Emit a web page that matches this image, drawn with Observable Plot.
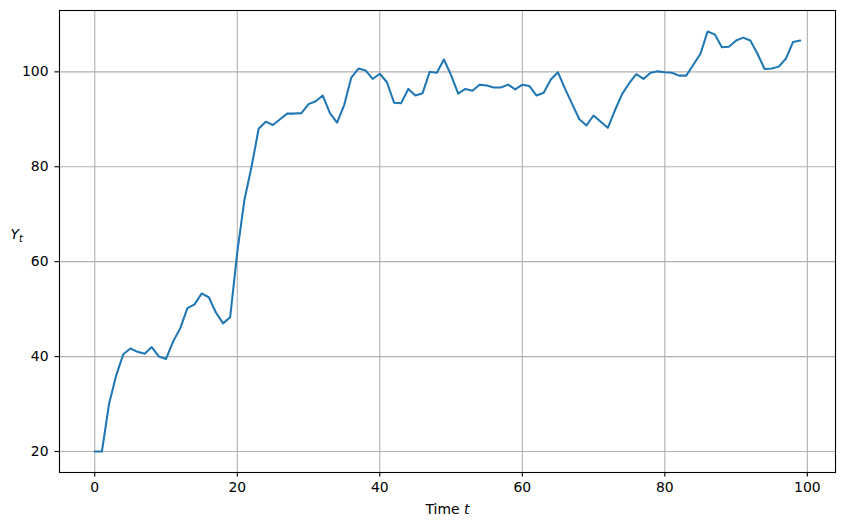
<!DOCTYPE html>
<html>
<head>
<meta charset="utf-8">
<script src="https://cdn.jsdelivr.net/npm/d3@7"></script>
<script src="https://cdn.jsdelivr.net/npm/@observablehq/plot@0.6"></script>
<style>
  html, body { margin: 0; padding: 0; background: #fff; }
  #chart svg { display: block; }
</style>
</head>
<body>
<div id="chart"></div>
<script>
const t = d3.range(0, 100);
const Y = [
  20.0, 20.0, 30.0, 36.0, 40.5, 41.7, 41.0, 40.6, 42.0, 40.0,
  39.5, 43.2, 46.0, 50.2, 51.0, 53.3, 52.5, 49.3, 47.0, 48.3,
  62.0, 73.0, 80.0, 88.0, 89.5, 88.8, 90.0, 91.2, 91.2, 91.3,
  93.2, 93.8, 95.0, 91.3, 89.3, 93.0, 98.8, 100.7, 100.3, 98.5,
  99.6, 97.8, 93.5, 93.4, 96.4, 95.0, 95.5, 100.0, 99.8, 102.6,
  99.3, 95.4, 96.4, 96.0, 97.3, 97.1, 96.7, 96.7, 97.3, 96.3,
  97.3, 97.0, 95.0, 95.6, 98.4, 99.9, 96.4, 93.2, 90.0, 88.7,
  90.8, 89.5, 88.2, 91.9, 95.3, 97.6, 99.5, 98.5, 99.8, 100.1,
  99.9, 99.8, 99.2, 99.2, 101.5, 103.8, 108.5, 107.9, 105.2, 105.3,
  106.6, 107.2, 106.6, 103.8, 100.6, 100.7, 101.1, 102.8, 106.3, 106.6
];
const xTicks = [0, 20, 40, 60, 80, 100];
const yTicks = [20, 40, 60, 80, 100];
const xLabel = "Time t";
const yLabel = "Y_t";

const data = t.map((ti, i) => ({t: ti, y: Y[i]}));

const xMin = d3.min(t), xMax = d3.max(t);
const yMin = d3.min(Y), yMax = d3.max(Y);
const xPad = (xMax - xMin) * 0.05, yPad = (yMax - yMin) * 0.05;

const chart = Plot.plot({
  width: 844,
  height: 526,
  marginLeft: 59,
  marginRight: 9,
  marginTop: 10,
  marginBottom: 54,
  style: {fontFamily: "DejaVu Sans", fontSize: "13.9px", color: "#000", background: "#fff"},
  x: {domain: [xMin - xPad, xMax + xPad], ticks: xTicks},
  y: {domain: [yMin - yPad, yMax + yPad], ticks: yTicks},
  marks: [
    Plot.gridX(xTicks, {stroke: "#b0b0b0", strokeOpacity: 1, strokeWidth: 1.1}),
    Plot.gridY(yTicks, {stroke: "#b0b0b0", strokeOpacity: 1, strokeWidth: 1.1}),
    Plot.line(data, {x: "t", y: "y", stroke: "#1f77b4", strokeWidth: 2.05}),
    Plot.frame({stroke: "#000", strokeWidth: 1.1}),
    Plot.axisX(xTicks, {label: null, tickSize: 4.5, tickPadding: 5.5, strokeWidth: 1.1, fontSize: 13.9}),
    Plot.axisY(yTicks, {label: null, tickSize: 4.5, tickPadding: 6.5, strokeWidth: 1.1, fontSize: 13.9}),
    Plot.text([xLabel], {frameAnchor: "bottom", dy: 41, text: d => d, fontSize: 13.9, className: "xlab"}),
    Plot.text([yLabel], {frameAnchor: "left", dx: -49, dy: -7, textAnchor: "start", text: d => d, fontSize: 13.9, className: "ylab"})
  ]
});

document.getElementById("chart").appendChild(chart);

// rich text for labels (italic t, subscript)
const xl = d3.select(chart).select("g.xlab text");
xl.text(null);
xl.append("tspan").text("Time ");
xl.append("tspan").attr("font-style", "italic").text("t");

const yl = d3.select(chart).select("g.ylab text");
yl.text(null);
yl.append("tspan").attr("font-style", "italic").text("Y");
yl.append("tspan").attr("font-style", "italic").attr("font-size", "9.7px").attr("dy", "0.3em").text("t");
</script>
</body>
</html>
